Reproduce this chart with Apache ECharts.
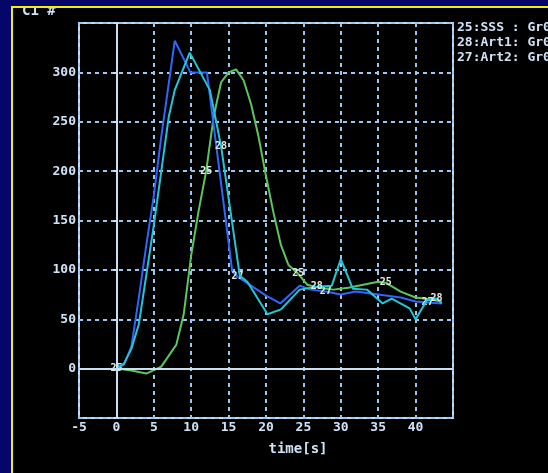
<!DOCTYPE html>
<html>
<head>
<meta charset="utf-8">
<script src="https://cdn.jsdelivr.net/npm/echarts@6/dist/echarts.min.js"></script>
<style>html,body{margin:0;padding:0;background:#05056a;}#c{width:548px;height:473px;}</style>
</head>
<body>
<div id="c"></div>
<script>
// ---- data ----
var xTicks = [-5, 0, 5, 10, 15, 20, 25, 30, 35, 40];
var yTicks = [0, 50, 100, 150, 200, 250, 300];
var legendLines = ['25:SSS : Gr01', '28:Art1: Gr01', '27:Art2: Gr01'];

// 25:SSS (green)
var sssT = [0, 2, 4, 6, 8, 9, 10, 11, 12, 13, 14, 15, 16, 17, 18, 19, 20, 21, 22, 23, 24.3, 25.5, 27, 29, 31, 33, 35, 36, 38, 40, 42, 43.5];
var sssV = [0, -2, -5, 2, 24, 55, 115, 160, 200, 255, 290, 300, 303, 292, 268, 235, 195, 158, 125, 105, 96, 85, 82, 80, 82, 85, 88, 87, 78, 72, 70, 68];
var sssMarks = [0, 12, 24.3, 36];

// 28:Art1 (cyan)
var art1T = [0, 1, 2, 3, 4, 5, 6, 7, 7.8, 9.8, 12.5, 14, 16.5, 17.5, 20.2, 22, 24.5, 26.8, 28.8, 30, 31.6, 33.5, 35.6, 36.8, 39.2, 40, 41.5, 42.8, 43.5];
var art1V = [0, 5, 20, 45, 95, 145, 200, 255, 282, 320, 282, 225, 94, 88, 55, 60, 80, 83, 84, 111, 81, 80, 66, 71, 61, 50, 69, 71, 66];
var art1Marks = [14, 26.8, 42.8];

// 27:Art2 (blue)
var art2T = [0, 1, 2, 3, 4, 5, 6, 7.8, 9.9, 12.1, 15.5, 16.2, 18, 20, 21.9, 24.5, 26, 28, 30, 32, 34, 36, 38, 40, 41.6, 43.5];
var art2V = [0, 4, 22, 72, 125, 175, 235, 332, 300, 300, 98, 93, 84, 74, 66, 84, 80, 78, 75, 78, 76, 74, 72, 68, 67, 66];
var art2Marks = [16.2, 28, 41.6];

var TXT = '#cfe2f6';
var MONO = '"DejaVu Sans Mono", "Liberation Mono", monospace';

function build(ts, vs, marks, num) {
  return ts.map(function (t, i) {
    if (marks.indexOf(t) >= 0) {
      return {
        value: [t, vs[i]],
        symbol: 'circle', symbolSize: 2,
        itemStyle: { color: 'transparent' },
        label: { show: true, position: 'inside', formatter: num, color: '#e4ece4', fontSize: 10, fontFamily: MONO, fontWeight: 'bold' }
      };
    }
    return [t, vs[i]];
  });
}

var chart = echarts.init(document.getElementById('c'), null, { renderer: 'canvas' });
chart.setOption({
  animation: false,
  backgroundColor: '#05056a',
  graphic: [
    { type: 'rect', z: -100, shape: { x: 12, y: 7, width: 560, height: 490 }, style: { fill: '#000000', stroke: '#f2f200', lineWidth: 2 } },
    { type: 'text', z: 100, left: 22, top: 4, style: { text: 'C1 #', fill: TXT, font: 'bold 14px ' + MONO } },
    { type: 'rect', z: 101, shape: { x: 12, y: 0, width: 100, height: 6 }, style: { fill: '#05056a' } },
    { type: 'line', z: 102, shape: { x1: 11, y1: 7, x2: 120, y2: 7 }, style: { stroke: '#f2f200', lineWidth: 2 } },
    { type: 'text', z: 100, left: 457, top: 20, style: { text: legendLines.join('\n'), fill: TXT, font: 'bold 13px ' + MONO, lineHeight: 15 } }
  ],
  grid: { left: 79, top: 23, width: 374, height: 395, show: true, borderColor: '#c4dcf2', borderWidth: 2, backgroundColor: 'transparent' },
  xAxis: {
    type: 'value', min: -5, max: 45, interval: 5,
    axisLine: { show: false }, axisTick: { show: false },
    axisLabel: { color: TXT, fontFamily: MONO, fontSize: 13, fontWeight: 'bold', margin: 3,
      formatter: function (v) { return xTicks.indexOf(v) >= 0 ? String(v) : ''; } },
    splitLine: { show: true, lineStyle: { color: '#9cc6f0', width: 2, type: [4, 4] } },
    name: 'time[s]', nameLocation: 'middle', nameGap: 24,
    nameTextStyle: { color: TXT, fontFamily: MONO, fontSize: 14, fontWeight: 'bold', padding: [0, 0, 0, 64] }
  },
  yAxis: {
    type: 'value', min: -50, max: 350, interval: 50,
    axisLine: { show: false },
    axisTick: { show: true, length: 3, lineStyle: { color: TXT, width: 2 } },
    axisLabel: { color: TXT, fontFamily: MONO, fontSize: 13, fontWeight: 'bold', margin: 3,
      formatter: function (v) { return yTicks.indexOf(v) >= 0 ? String(v) : ''; } },
    splitLine: { show: true, lineStyle: { color: '#9cc6f0', width: 2, type: [4, 4] } }
  },
  series: [
    {
      name: '25:SSS', type: 'line', symbol: 'none', data: build(sssT, sssV, sssMarks, '25'),
      lineStyle: { color: '#5ec45e', width: 2 }, itemStyle: { color: '#5ec45e' }, z: 3,
      markLine: {
        silent: true, symbol: ['none', 'none'], label: { show: false },
        lineStyle: { color: '#c8def2', width: 2, type: 'solid' },
        data: [{ xAxis: 0 }, { yAxis: 0 }]
      }
    },
    { name: '28:Art1', type: 'line', symbol: 'none', data: build(art1T, art1V, art1Marks, '28'),
      lineStyle: { color: '#22c6d8', width: 2 }, itemStyle: { color: '#22c6d8' }, z: 4 },
    { name: '27:Art2', type: 'line', symbol: 'none', data: build(art2T, art2V, art2Marks, '27'),
      lineStyle: { color: '#2f66ff', width: 2 }, itemStyle: { color: '#2f66ff' }, z: 3 }
  ]
});
</script>
</body>
</html>
